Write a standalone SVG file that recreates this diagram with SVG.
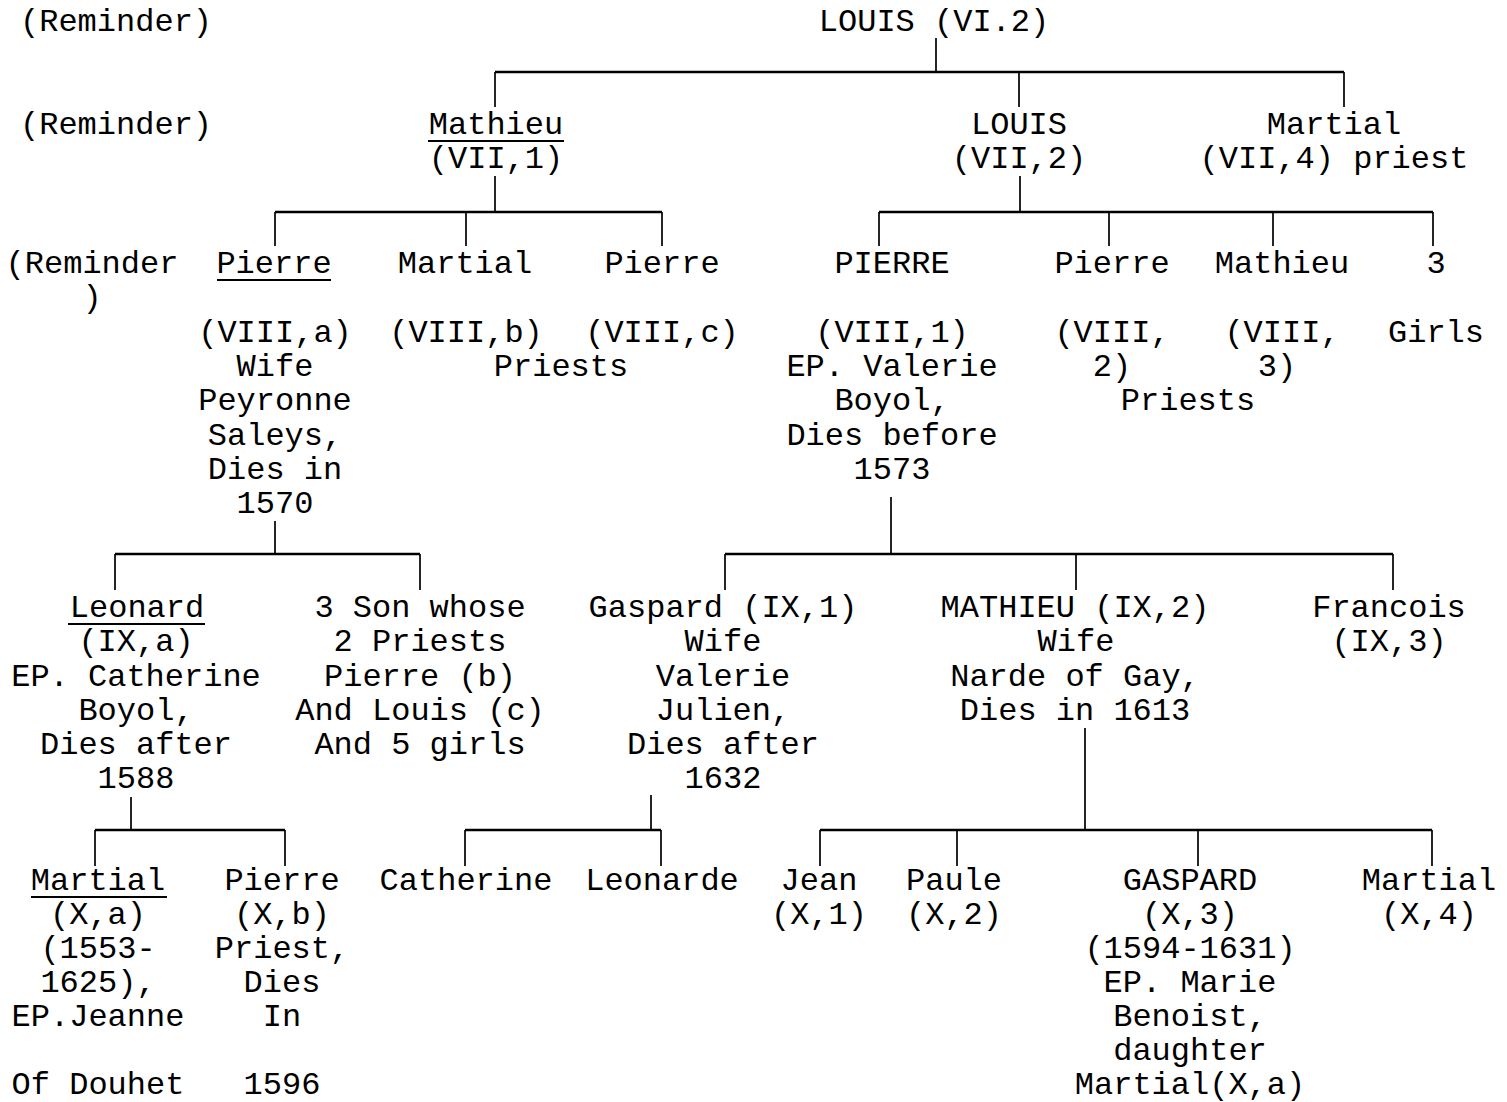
<svg xmlns="http://www.w3.org/2000/svg" width="1507" height="1102" viewBox="0 0 1507 1102">
<style>
text{font-family:"Liberation Mono","Courier New",monospace;font-size:32px;fill:#000}
.c{text-anchor:middle}
.h{stroke:#000;stroke-width:2.5;fill:none}
.v{stroke:#000;stroke-width:1.7;fill:none}
.u{stroke:#000;stroke-width:2.2}
</style>
<rect width="1507" height="1102" fill="#fff"/>
<g id="connectors">
<path class="h" d="M495 72H1344M275 212H662M879 212H1433M115 554H420M725 554H1393M95 830H285M465 830H661M820 830H1432"/>
<path class="v" d="M936 38V72M495 72V107M1019 72V107M1344 72V107M495 176V212M275 212V246M466 212V246M662 212V246M1020 176V212M879 212V246M1109 212V246M1273 212V246M1433 212V246M275 521V554M115 554V590M420 554V590M891 497V554M725 554V590M1076 554V590M1393 554V590M131 797V830M95 830V866M285 830V866M651 795V830M465 830V866M661 830V866M1085 728V830M820 830V866M957 830V866M1198 830V866M1432 830V866"/>
</g>
<g id="reminder1"><text x="20" y="31">(Reminder)</text></g>
<g id="reminder2"><text x="20" y="134">(Reminder)</text></g>
<g id="reminder3"><text class="c" x="92" y="273">(Reminder</text><text class="c" x="92" y="307">)</text></g>
<g id="louis-vi2"><text class="c" x="934" y="31">LOUIS (VI.2)</text></g>
<g id="mathieu-vii1"><text class="c" x="496" y="134">Mathieu</text><line class="u" x1="428" y1="141" x2="564" y2="141"/><text class="c" x="496" y="168">(VII,1)</text></g>
<g id="louis-vii2"><text class="c" x="1019" y="134">LOUIS</text><text class="c" x="1019" y="168">(VII,2)</text></g>
<g id="martial-vii4"><text class="c" x="1334" y="134">Martial</text><text class="c" x="1334" y="168">(VII,4) priest</text></g>
<g id="pierre-viiia"><text class="c" x="274" y="273">Pierre</text><line class="u" x1="217" y1="280" x2="331" y2="280"/>
<text class="c" x="275" y="342">(VIII,a)</text><text class="c" x="275" y="376">Wife</text><text class="c" x="275" y="410">Peyronne</text><text class="c" x="275" y="445">Saleys,</text><text class="c" x="275" y="479">Dies in</text><text class="c" x="275" y="513">1570</text></g>
<g id="martial-viiib"><text class="c" x="465" y="273">Martial</text><text class="c" x="466" y="342">(VIII,b)</text></g>
<g id="pierre-viiic"><text class="c" x="662" y="273">Pierre</text><text class="c" x="662" y="342">(VIII,c)</text></g>
<g id="priests-bc"><text class="c" x="561" y="376">Priests</text></g>
<g id="pierre-viii1"><text class="c" x="892" y="273">PIERRE</text><text class="c" x="892" y="342">(VIII,1)</text><text class="c" x="892" y="376">EP. Valerie</text><text class="c" x="892" y="410">Boyol,</text><text class="c" x="892" y="445">Dies before</text><text class="c" x="892" y="479">1573</text></g>
<g id="pierre-viii2"><text class="c" x="1112" y="273">Pierre</text><text class="c" x="1112" y="342">(VIII,</text><text class="c" x="1112" y="376">2)</text></g>
<g id="mathieu-viii3"><text class="c" x="1282" y="273">Mathieu</text><text class="c" x="1282" y="342">(VIII,</text><text class="c" x="1277" y="376">3)</text></g>
<g id="priests-23"><text class="c" x="1188" y="410">Priests</text></g>
<g id="girls"><text class="c" x="1436" y="273">3</text><text class="c" x="1436" y="342">Girls</text></g>
<g id="leonard-ixa"><text class="c" x="137" y="617">Leonard</text><line class="u" x1="68" y1="624" x2="205" y2="624"/>
<text class="c" x="136" y="651">(IX,a)</text><text class="c" x="136" y="686">EP. Catherine</text><text class="c" x="136" y="720">Boyol,</text><text class="c" x="136" y="754">Dies after</text><text class="c" x="136" y="788">1588</text></g>
<g id="three-sons"><text class="c" x="420" y="617">3 Son whose</text><text class="c" x="420" y="651">2 Priests</text><text class="c" x="420" y="686">Pierre (b)</text><text class="c" x="420" y="720">And Louis (c)</text><text class="c" x="420" y="754">And 5 girls</text></g>
<g id="gaspard-ix1"><text class="c" x="723" y="617">Gaspard (IX,1)</text><text class="c" x="723" y="651">Wife</text><text class="c" x="723" y="686">Valerie</text><text class="c" x="723" y="720">Julien,</text><text class="c" x="723" y="754">Dies after</text><text class="c" x="723" y="788">1632</text></g>
<g id="mathieu-ix2"><text class="c" x="1075" y="617">MATHIEU (IX,2)</text><text class="c" x="1076" y="651">Wife</text><text class="c" x="1075" y="686">Narde of Gay,</text><text class="c" x="1075" y="720">Dies in 1613</text></g>
<g id="francois-ix3"><text class="c" x="1389" y="617">Francois</text><text class="c" x="1389" y="651">(IX,3)</text></g>
<g id="martial-xa"><text class="c" x="98" y="890">Martial</text><line class="u" x1="31" y1="897" x2="167" y2="897"/>
<text class="c" x="98" y="924">(X,a)</text><text class="c" x="98" y="958">(1553-</text><text class="c" x="98" y="992">1625),</text><text class="c" x="98" y="1026">EP.Jeanne</text><text class="c" x="98" y="1094">Of Douhet</text></g>
<g id="pierre-xb"><text class="c" x="282" y="890">Pierre</text><text class="c" x="282" y="924">(X,b)</text><text class="c" x="282" y="958">Priest,</text><text class="c" x="282" y="992">Dies</text><text class="c" x="282" y="1026">In</text><text class="c" x="282" y="1094">1596</text></g>
<g id="catherine"><text class="c" x="466" y="890">Catherine</text></g>
<g id="leonarde"><text class="c" x="662" y="890">Leonarde</text></g>
<g id="jean-x1"><text class="c" x="819" y="890">Jean</text><text class="c" x="819" y="924">(X,1)</text></g>
<g id="paule-x2"><text class="c" x="954" y="890">Paule</text><text class="c" x="954" y="924">(X,2)</text></g>
<g id="gaspard-x3"><text class="c" x="1190" y="890">GASPARD</text><text class="c" x="1190" y="924">(X,3)</text><text class="c" x="1190" y="958">(1594-1631)</text><text class="c" x="1190" y="992">EP. Marie</text><text class="c" x="1190" y="1026">Benoist,</text><text class="c" x="1190" y="1060">daughter</text><text class="c" x="1190" y="1094">Martial(X,a)</text></g>
<g id="martial-x4"><text class="c" x="1429" y="890">Martial</text><text class="c" x="1429" y="924">(X,4)</text></g>
</svg>
